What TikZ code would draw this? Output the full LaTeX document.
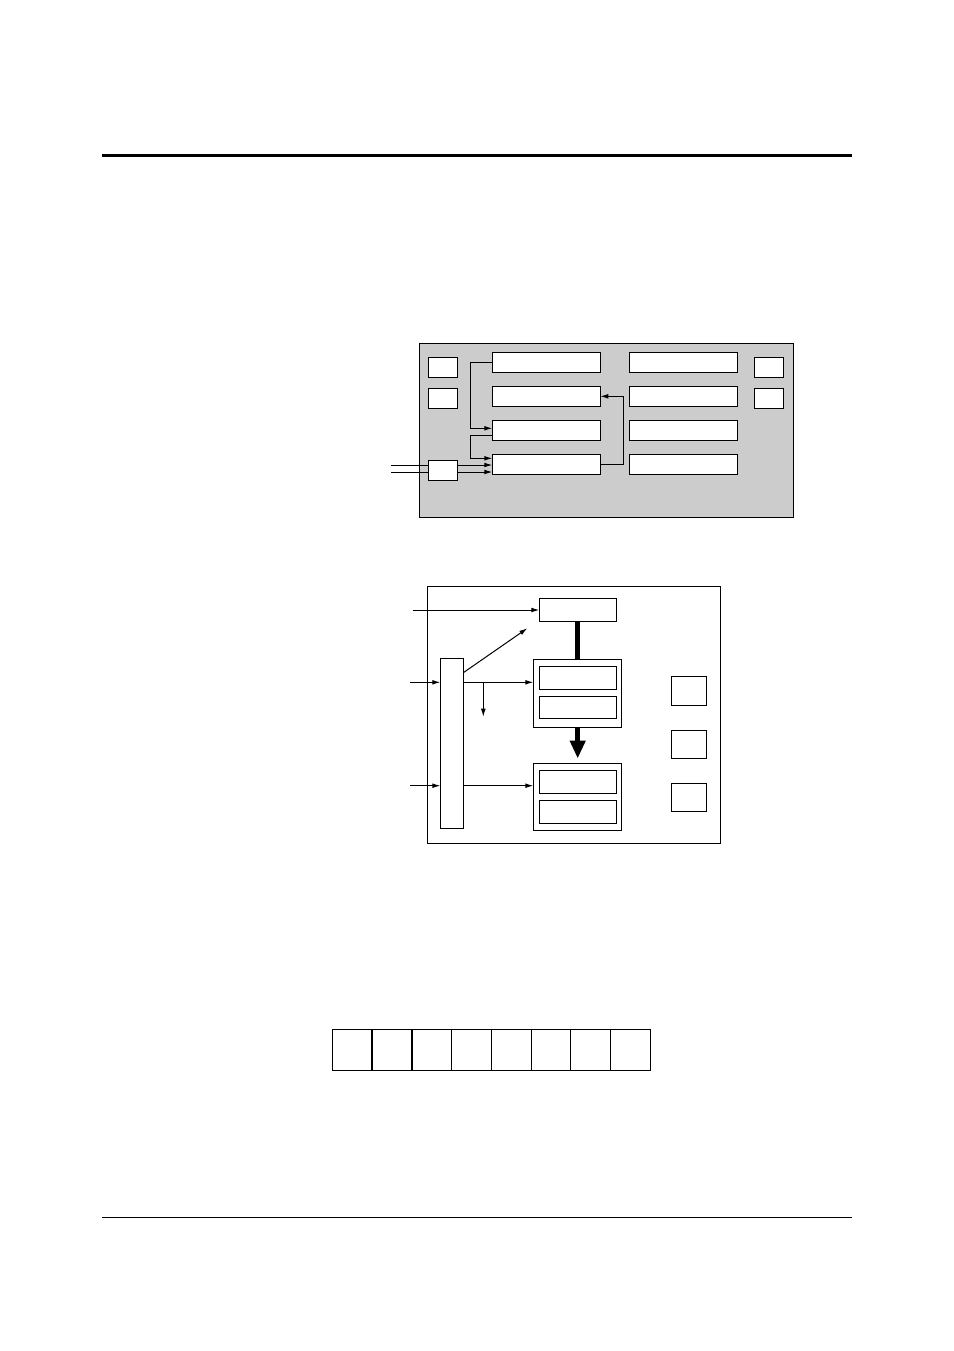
\documentclass[tikz,border=0pt]{standalone}
\usetikzlibrary{arrows.meta}
\definecolor{panelgrey}{RGB}{204,204,204}
\begin{document}
\begin{tikzpicture}[x=0.5pt,y=-0.5pt,
  box/.style={draw=black,line width=0.5pt,fill=white},
  wire/.style={line width=0.5pt},
  arr/.style={wire,-{Latex[length=4pt,width=2.4pt]}},
  every node/.style={inner sep=0pt,outer sep=0pt}]
\useasboundingbox (0,0) rectangle (954,1351);
% page rules
\draw[line width=1.5pt] (102,155.5) -- (852,155.5);
\draw[line width=0.5pt] (102,1217.3) -- (852,1217.3);

% ---------- top diagram ----------
\draw[box,fill=panelgrey] (419.3,343.3) rectangle (793.3,517.3);
\node[box,minimum width=14.5pt,minimum height=10pt,anchor=north west] (l1) at (428.3,357.3) {};
\node[box,minimum width=14.5pt,minimum height=10.3pt,anchor=north west] (l2) at (428.3,388.3) {};
\node[box,minimum width=14.5pt,minimum height=10pt,anchor=north west] (l3) at (428.3,460.3) {};
\node[box,minimum width=14.5pt,minimum height=10pt,anchor=north west] (r1) at (754.3,357.3) {};
\node[box,minimum width=14.5pt,minimum height=10.3pt,anchor=north west] (r2) at (754.3,388.3) {};
\foreach \i/\y in {1/352.3,2/386.3,3/420.3,4/454.3}{
  \node[box,minimum width=54pt,minimum height=10.3pt,anchor=north west] (a\i) at (492.3,\y) {};
  \node[box,minimum width=54pt,minimum height=10.3pt,anchor=north west] (b\i) at (629.3,\y) {};
}
\coordinate (in1) at (391,465);
\coordinate (in2) at (391,472);
\draw[wire] (in1) -- (l3.west |- in1);
\draw[wire] (in2) -- (l3.west |- in2);
\draw[arr] (l3.east |- 0,465) -- (a4.west |- 0,465);
\draw[arr] (l3.east |- 0,472) -- (a4.west |- 0,472);
\draw[arr] (a1.west |- 0,362.3) -- (470.3,362.3) -- (470.3,428.3) -- (a3.west |- 0,428.3);
\draw[arr] (a3.west |- 0,435) -- (470.3,435) -- (470.3,458.3) -- (a4.west |- 0,458.3);
\draw[arr] (a4.east |- 0,464) -- (623,464) -- (623,396.3) -- (a2.east |- 0,396.3);

% ---------- middle diagram ----------
\draw[box] (427.3,586) rectangle (720,843.3);
\node[box,minimum width=38.5pt,minimum height=11.5pt,anchor=north west] (top) at (539.3,598.3) {};
\node[box,minimum width=11.5pt,minimum height=85pt,anchor=north west] (bar) at (440.3,658.3) {};
\node[box,minimum width=44pt,minimum height=34pt,anchor=north west] (m) at (533.3,659.3) {};
\node[box,minimum width=38.6pt,minimum height=11.3pt,anchor=north west] (m1) at (539,666.7) {};
\node[box,minimum width=38.6pt,minimum height=11.2pt,anchor=north west] (m2) at (539,696) {};
\node[box,minimum width=44pt,minimum height=33.8pt,anchor=north west] (n) at (533.3,763.3) {};
\node[box,minimum width=38.6pt,minimum height=11.5pt,anchor=north west] (n1) at (539,770.3) {};
\node[box,minimum width=38.6pt,minimum height=11.6pt,anchor=north west] (n2) at (539,800) {};
\node[box,minimum width=17.5pt,minimum height=14.5pt,anchor=north west] (s1) at (671.3,676.3) {};
\node[box,minimum width=17.5pt,minimum height=14pt,anchor=north west] (s2) at (671.3,730.3) {};
\node[box,minimum width=17.5pt,minimum height=14pt,anchor=north west] (s3) at (671.3,783.3) {};
\draw[line width=2.5pt] (top.south -| 577.7,0) -- (m.north -| 577.7,0);
\draw[line width=2.5pt,-{Triangle[length=9pt,width=7.5pt]}] (m.south -| 577.7,0) -- (577.7,758.5);
\coordinate (t0) at (412.7,610);
\draw[arr] (t0) -- (top.west |- t0);
\coordinate (d1) at (527.3,628.3);
\draw[arr] (463.3,672.7) -- (d1);
\coordinate (i1) at (410,682.3);
\draw[arr] (i1) -- (bar.west |- i1);
\draw[arr] (bar.east |- i1) -- (m.west |- i1);
\coordinate (dn) at (483.3,716.7);
\draw[arr] (483.3,682.3) -- (dn);
\coordinate (i2) at (410,785.7);
\draw[arr] (i2) -- (bar.west |- i2);
\draw[arr] (bar.east |- i2) -- (n.west |- i2);

% ---------- bottom register ----------
\foreach \x [count=\k] in {332.3,372.3,412.3,451.7,491.7,531.3,570.7,610.7}{
  \node[box,minimum width=19.8pt,minimum height=20.5pt,anchor=north west] (c\k) at (\x,1029.3) {};
}
\draw[box,fill=none] (332.3,1029.3) rectangle (650,1070.3);
\end{tikzpicture}
\end{document}
